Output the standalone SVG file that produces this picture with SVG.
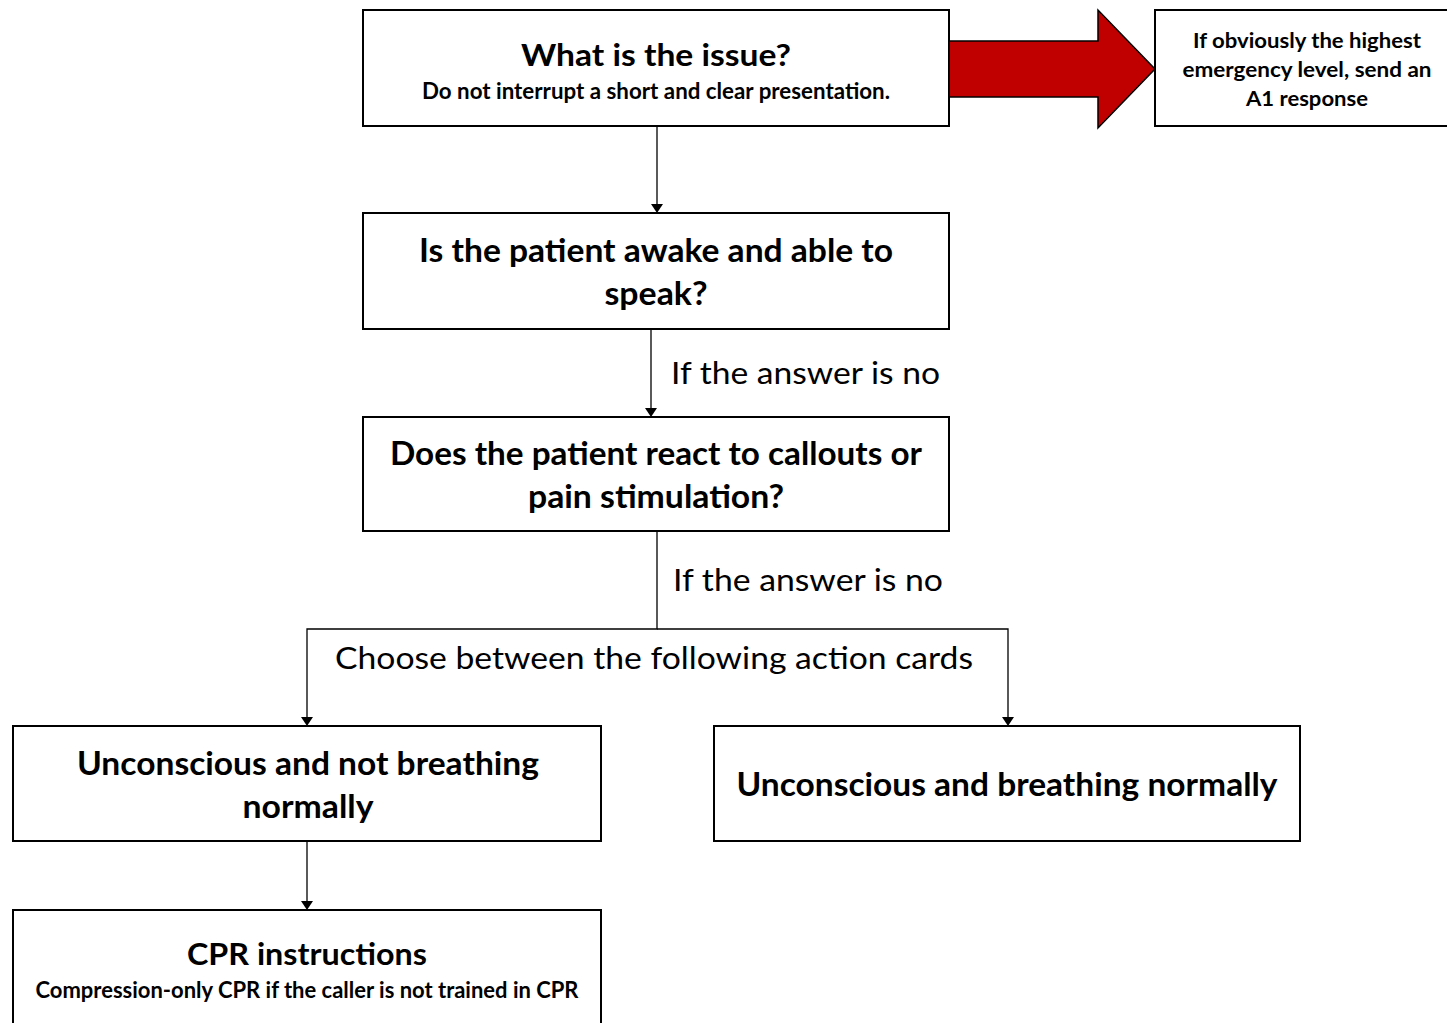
<svg xmlns="http://www.w3.org/2000/svg" width="1447" height="1023" viewBox="0 0 1447 1023">
<defs>
<marker id="ah" markerWidth="10" markerHeight="10" refX="5" refY="8" orient="auto-start-reverse" markerUnits="userSpaceOnUse" viewBox="0 0 10 10">
<path d="M0,0 L10,0 L5,9 Z" fill="#000" transform="rotate(0)"/>
</marker>
<style>
.box{fill:#fff;stroke:#000;stroke-width:2}
.t{font-family:Lato,"Open Sans","Liberation Sans",sans-serif;font-weight:bold;fill:#000;text-anchor:middle}
.l{font-family:Lato,"Open Sans","Liberation Sans",sans-serif;fill:#000}
.c{fill:none;stroke:#000;stroke-width:1.3}
</style>
</defs>
<rect width="1447" height="1023" fill="#fff"/>
<g id="connectors">
<line class="c" x1="657" y1="126" x2="657" y2="204"/>
<path d="M651,204 L663,204 L657,213 Z"/>
<line class="c" x1="651" y1="329" x2="651" y2="408"/>
<path d="M645,408 L657,408 L651,417 Z"/>
<polyline class="c" points="657,531 657,629 307,629 307,717"/>
<path d="M301,717 L313,717 L307,726 Z"/>
<polyline class="c" points="657,629 1008,629 1008,717"/>
<path d="M1002,717 L1014,717 L1008,726 Z"/>
<line class="c" x1="307" y1="841" x2="307" y2="901"/>
<path d="M301,901 L313,901 L307,910 Z"/>
<path d="M949,41 L1098,41 L1098,10 L1155,69 L1098,128 L1098,97 L949,97 Z" fill="#c00000" stroke="#000" stroke-width="1.5"/>
<text class="l" x="671" y="384" font-size="30" textLength="269" lengthAdjust="spacingAndGlyphs">If the answer is no</text>
<text class="l" x="673" y="591" font-size="30" textLength="270" lengthAdjust="spacingAndGlyphs">If the answer is no</text>
<text class="l" x="335" y="669" font-size="30" textLength="638" lengthAdjust="spacingAndGlyphs">Choose between the following action cards</text>
</g>
<g id="n1">
<rect class="box" x="363" y="10" width="586" height="116"/>
<text class="t" x="656" y="66" font-size="31" textLength="270" lengthAdjust="spacingAndGlyphs">What is the issue?</text>
<text class="t" x="656" y="99" font-size="22" textLength="468" lengthAdjust="spacingAndGlyphs">Do not interrupt a short and clear presentation.</text>
</g>
<g id="n2">
<rect class="box" x="1155" y="10" width="300" height="116"/>
<text class="t" x="1307" y="48" font-size="21" textLength="228" lengthAdjust="spacingAndGlyphs">If obviously the highest</text>
<text class="t" x="1307" y="77" font-size="21" textLength="249" lengthAdjust="spacingAndGlyphs">emergency level, send an</text>
<text class="t" x="1307" y="106" font-size="21" textLength="122" lengthAdjust="spacingAndGlyphs">A1 response</text>
</g>
<g id="n3">
<rect class="box" x="363" y="213" width="586" height="116"/>
<text class="t" x="656" y="262" font-size="32" textLength="474" lengthAdjust="spacingAndGlyphs">Is the patient awake and able to</text>
<text class="t" x="656" y="305" font-size="32" textLength="103" lengthAdjust="spacingAndGlyphs">speak?</text>
</g>
<g id="n4">
<rect class="box" x="363" y="417" width="586" height="114"/>
<text class="t" x="656" y="465" font-size="32" textLength="532" lengthAdjust="spacingAndGlyphs">Does the patient react to callouts or</text>
<text class="t" x="656" y="508" font-size="32" textLength="256" lengthAdjust="spacingAndGlyphs">pain stimulation?</text>
</g>
<g id="n5">
<rect class="box" x="13" y="726" width="588" height="115"/>
<text class="t" x="308" y="775" font-size="32" textLength="462" lengthAdjust="spacingAndGlyphs">Unconscious and not breathing</text>
<text class="t" x="308" y="818" font-size="32" textLength="131" lengthAdjust="spacingAndGlyphs">normally</text>
</g>
<g id="n6">
<rect class="box" x="714" y="726" width="586" height="115"/>
<text class="t" x="1007" y="796" font-size="32" textLength="541" lengthAdjust="spacingAndGlyphs">Unconscious and breathing normally</text>
</g>
<g id="n7">
<rect class="box" x="13" y="910" width="588" height="130"/>
<text class="t" x="307" y="965" font-size="31" textLength="240" lengthAdjust="spacingAndGlyphs">CPR instructions</text>
<text class="t" x="307" y="998" font-size="22" textLength="543" lengthAdjust="spacingAndGlyphs">Compression-only CPR if the caller is not trained in CPR</text>
</g>
</svg>
